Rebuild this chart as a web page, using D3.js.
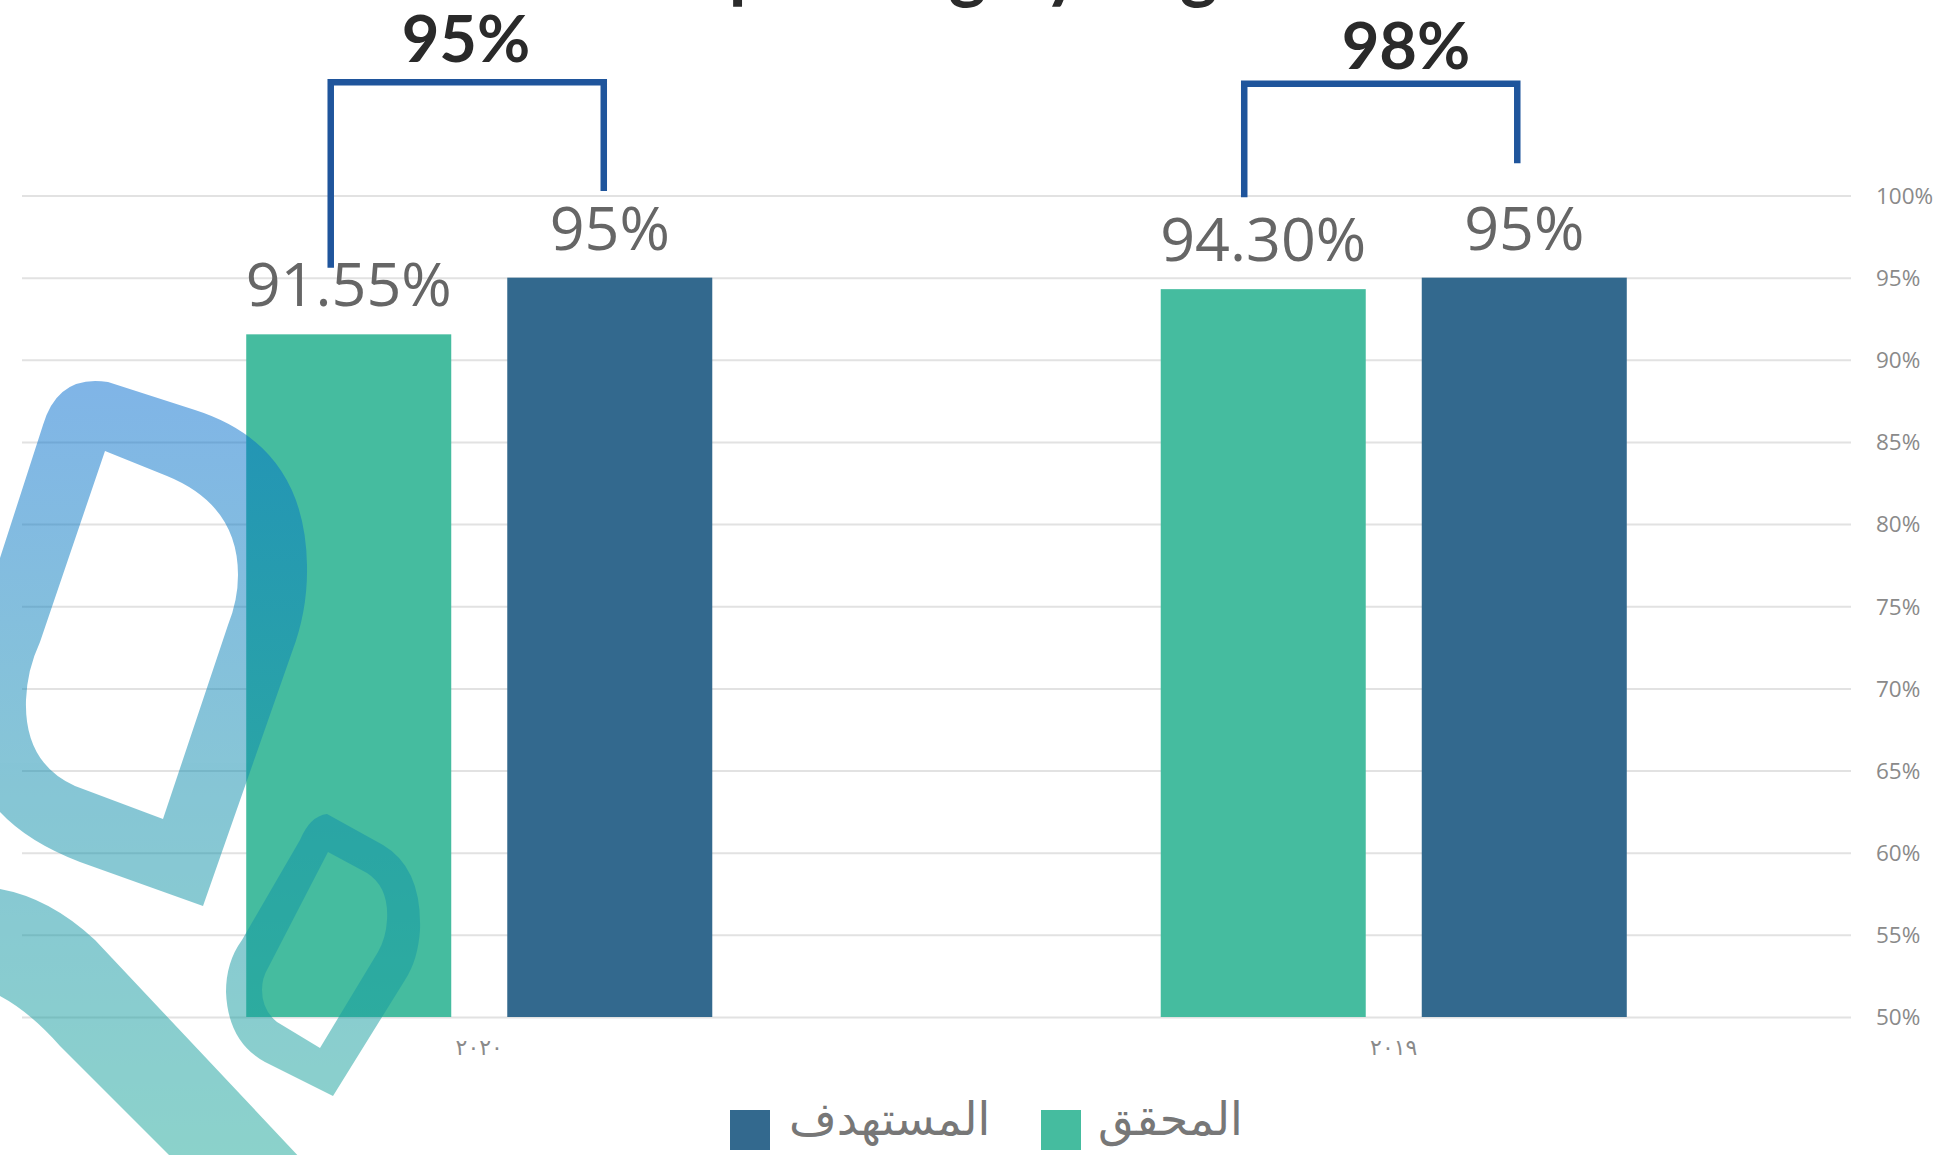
<!DOCTYPE html>
<html>
<head>
<meta charset="utf-8">
<script src="https://cdn.jsdelivr.net/npm/d3@7"></script>
<style>
  html, body { margin: 0; padding: 0; background: #ffffff; }
  svg { display: block; }
</style>
</head>
<body>
<svg id="chart" width="1938" height="1155"></svg>
<script>
// ---- data ----
const categories = ["٢٠٢٠", "٢٠١٩"];
const seriesNames = ["المحقق", "المستهدف"];
const achieved = [91.55, 94.30];
const target = [95, 95];
const achievedLabels = ["91.55%", "94.30%"];
const targetLabels = ["95%", "95%"];
const bracketLabels = ["95%", "98%"];
const yTicks = [50, 55, 60, 65, 70, 75, 80, 85, 90, 95, 100];
const yTickLabels = ["50%", "55%", "60%", "65%", "70%", "75%", "80%", "85%", "90%", "95%", "100%"];
const titleText = "Spending by Region";

// ---- styles ----
const colors = { "المحقق": "#45BC9F", "المستهدف": "#33698E" };
const bracketColor = "#1F559C";

const svg = d3.select("#chart");

const x0 = d3.scaleBand().domain(categories).range([22, 1851]).paddingInner(0).paddingOuter(0);
const x1 = d3.scaleBand().domain(seriesNames).range([0, x0.bandwidth()]).paddingInner(0.2146).paddingOuter(0.859);
const y = d3.scaleLinear().domain([50, 100]).range([1017, 195.5]);

// title (mostly cut off at top, as in the reference)
svg.append("text")
  .attr("x", 690).attr("y", -6)
  .attr("font-family", "Lato, 'Open Sans', sans-serif")
  .attr("font-weight", 700).attr("font-size", 72)
  .attr("fill", "#2b2b2b")
  .text(titleText);

// gridlines + tick labels
const yAxis = d3.axisRight(y).tickValues(yTicks).tickSize(-(1851 - 22)).tickFormat((d, i) => yTickLabels[i]);
const gAxis = svg.append("g").attr("transform", "translate(1851,0)").call(yAxis);
gAxis.select(".domain").remove();
gAxis.selectAll(".tick line").attr("stroke", "#e2e2e2").attr("stroke-width", 2);
gAxis.selectAll(".tick text")
  .attr("x", 25).attr("dy", "0.35em")
  .attr("text-anchor", "start")
  .attr("font-family", "'Open Sans', sans-serif")
  .attr("font-size", 22.5).attr("fill", "#8a8a8a");

// bars
const rows = categories.map((c, i) => ({
  cat: c,
  vals: [
    { s: seriesNames[0], v: achieved[i], lab: achievedLabels[i] },
    { s: seriesNames[1], v: target[i], lab: targetLabels[i] }
  ]
}));

const groups = svg.selectAll("g.grp").data(rows).join("g")
  .attr("class", "grp")
  .attr("transform", d => `translate(${x0(d.cat)},0)`);

groups.selectAll("rect").data(d => d.vals).join("rect")
  .attr("x", d => x1(d.s))
  .attr("width", x1.bandwidth())
  .attr("y", d => y(d.v))
  .attr("height", d => y(50) - y(d.v))
  .attr("fill", d => colors[d.s]);

groups.selectAll("text.val").data(d => d.vals).join("text")
  .attr("class", "val")
  .attr("x", d => x1(d.s) + x1.bandwidth() / 2)
  .attr("y", d => y(d.v) - 28)
  .attr("text-anchor", "middle")
  .attr("font-family", "'Open Sans', sans-serif")
  .attr("font-size", 61)
  .attr("fill", "#666666")
  .text(d => d.lab);

// category labels
svg.selectAll("text.cat").data(categories).join("text")
  .attr("class", "cat")
  .attr("x", d => x0(d) + x0.bandwidth() / 2)
  .attr("y", 1055)
  .attr("text-anchor", "middle")
  .attr("font-family", "'DejaVu Sans', sans-serif")
  .attr("font-size", 22)
  .attr("fill", "#8a8a8a")
  .text(d => d);

// brackets (annotation)
const bracketGeom = [
  { leftOff: -18, rightOff: -6, top: 106.9, lb: 95.6, rb: 100.27, tx: 466, ty: 108.1 },
  { leftOff: -19, rightOff: -7, top: 106.8, lb: 99.9, rb: 101.97, tx: 1406, ty: 107.7 }
];
categories.forEach((c, i) => {
  const g = bracketGeom[i];
  const lx = x0(c) + x1(seriesNames[0]) + x1.bandwidth() / 2 + g.leftOff;
  const rx = x0(c) + x1(seriesNames[1]) + x1.bandwidth() / 2 + g.rightOff;
  const p = d3.path();
  p.moveTo(lx, y(g.lb));
  p.lineTo(lx, y(g.top));
  p.lineTo(rx, y(g.top));
  p.lineTo(rx, y(g.rb));
  svg.append("path").attr("d", p.toString())
    .attr("fill", "none").attr("stroke", bracketColor)
    .attr("stroke-width", 6.5).attr("stroke-linejoin", "miter").attr("stroke-linecap", "butt");
  svg.append("text")
    .attr("x", g.tx).attr("y", y(g.ty))
    .attr("text-anchor", "middle")
    .attr("font-family", "Lato, 'Open Sans', sans-serif")
    .attr("font-weight", 700).attr("font-size", 65)
    .attr("fill", "#2a2a2a")
    .text(bracketLabels[i]);
});

// legend
const legendItems = [
  { s: seriesNames[1], sx: 730, tx: 789 },
  { s: seriesNames[0], sx: 1041, tx: 1098 }
];
legendItems.forEach(it => {
  svg.append("rect").attr("x", it.sx).attr("y", 1110).attr("width", 40).attr("height", 40).attr("fill", colors[it.s]);
  svg.append("text")
    .attr("x", it.tx).attr("y", 1135)
    .attr("text-anchor", "start")
    .attr("font-family", "'DejaVu Sans', sans-serif")
    .attr("font-size", 46)
    .attr("fill", "#777777")
    .text(it.s);
});

// watermark
const defs = svg.append("defs");
const grad = defs.append("linearGradient").attr("id", "wm")
  .attr("gradientUnits", "userSpaceOnUse")
  .attr("x1", 0).attr("y1", 380).attr("x2", 0).attr("y2", 1155);
grad.append("stop").attr("offset", 0).attr("stop-color", "#006ACF");
grad.append("stop").attr("offset", 0.52).attr("stop-color", "#0F8DAD");
grad.append("stop").attr("offset", 1).attr("stop-color", "#1AA698");

const wm = svg.append("g").attr("opacity", 0.5);
wm.append("path").attr("fill", "url(#wm)").attr("fill-rule", "evenodd")
  .attr("d", "M 0,558 L 43,425 Q 58,374 108,382 L 195,410 Q 305,445 307,565 Q 308,610 292,652 L 203,906 L 80,862 Q 28,842 0,812 L -30,812 L -30,558 Z " +
             "M 105,451 L 167,476 Q 238,505 238,575 Q 238,600 228,625 L 163,819 L 75,786 Q 24,763 26,700 Q 27,670 40,642 Z");
wm.append("path").attr("fill", "url(#wm)").attr("fill-rule", "evenodd")
  .attr("d", "M 327,814 L 383,845 Q 422,868 420,930 Q 418,960 405,980 L 333,1096 L 265,1062 Q 228,1042 226,992 Q 226,962 242,940 L 300,840 Q 310,816 327,814 Z " +
             "M 328,852 L 367,873 Q 389,887 387,920 Q 386,938 378,952 L 320,1048 L 277,1022 Q 262,1010 262,990 Q 262,978 268,968 Z");
wm.append("path").attr("fill", "url(#wm)")
  .attr("d", "M -10,889 L 0,889 Q 50,898 95,940 L 302,1160 L 174,1160 L 60,1046 Q 30,1012 0,996 L -10,996 Z");
</script>
</body>
</html>
